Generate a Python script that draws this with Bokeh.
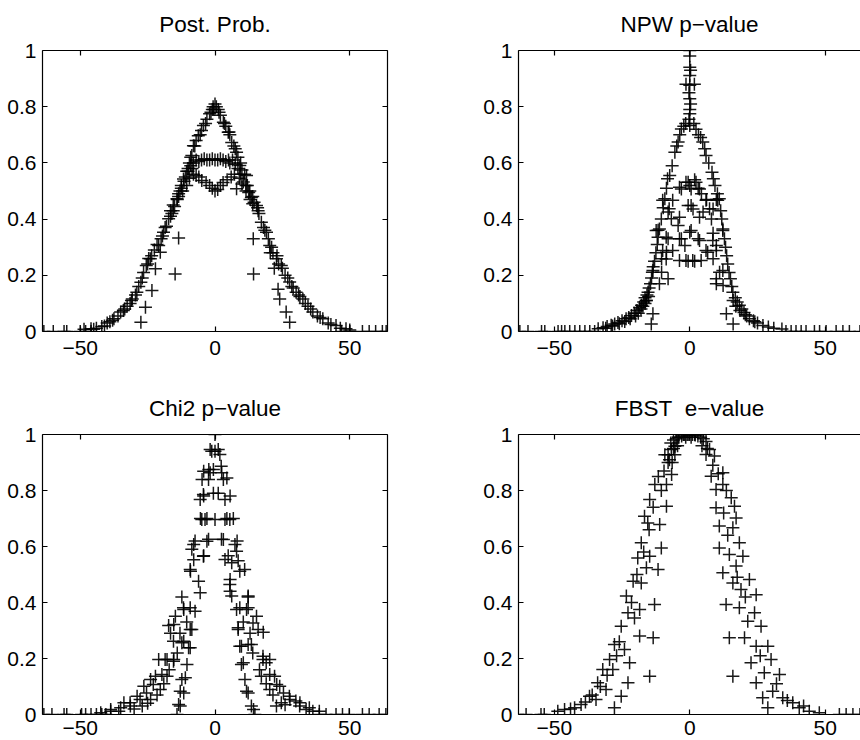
from bokeh.plotting import figure
from bokeh.models import LinearAxis, FixedTicker, Range1d, ColumnDataSource
from bokeh.layouts import column, row
from bokeh.embed import file_html
from bokeh.resources import INLINE

FONT = "Liberation Sans"

x_ticks = [-50, 0, 50]
x_tick_labels = ["\u221250", "0", "50"]
y_ticks = [0, 0.2, 0.4, 0.6, 0.8, 1]
y_tick_labels = ["0", "0.2", "0.4", "0.6", "0.8", "1"]

titles = ["Post. Prob.", "NPW p\u2212value", "Chi2 p\u2212value", "FBST\u00a0 e\u2212value"]

# ---------------- Post. Prob. ----------------
post_zero = [(-63.5, 0), (-60, 0), (-56, 0), (-55, 0), (-50, 0), (-48, 0), (-46, 0),
             (47, 0), (50, 0), (54.7, 0), (57.2, 0), (59.6, 0), (62.1, 0), (63.5, 0)]
post_outer_left = [(-48.6, 0.008), (-46, 0.01), (-44, 0.012), (-42, 0.018), (-40, 0.03), (-39, 0.035),
                   (-37.5, 0.045), (-36, 0.055), (-35, 0.069), (-34, 0.075), (-32.6, 0.09), (-31.5, 0.10),
                   (-30.7, 0.116), (-29.5, 0.13), (-28.3, 0.16), (-27.5, 0.175), (-26.5, 0.21), (-25.5, 0.235),
                   (-24.6, 0.26), (-24, 0.259), (-22.5, 0.29), (-20.9, 0.306), (-20, 0.33), (-19.1, 0.353),
                   (-18, 0.375), (-17.2, 0.401), (-16, 0.42), (-15, 0.445), (-14.1, 0.472), (-13, 0.50),
                   (-11.7, 0.543), (-10.5, 0.57), (-9.5, 0.60), (-8.6, 0.626), (-8, 0.661), (-7, 0.68),
                   (-6.2, 0.697), (-5, 0.715), (-4.3, 0.733), (-3, 0.755), (-2, 0.775), (-1, 0.79),
                   (-0.7, 0.80), (0, 0.81),
                   (-45, 0.008), (-41, 0.02), (-38, 0.04), (-33.5, 0.08), (-31, 0.11), (-29, 0.14),
                   (-27, 0.19), (-25, 0.24), (-23.5, 0.27), (-21.5, 0.31), (-19.5, 0.34), (-18.5, 0.37),
                   (-16.5, 0.41), (-15.5, 0.43), (-13.5, 0.48), (-12.5, 0.52), (-11, 0.55), (-10, 0.58),
                   (-9, 0.62), (-7.5, 0.66), (-5.5, 0.70), (-3.5, 0.74), (-1.5, 0.78), (-0.5, 0.79)]
post_outer_right = [(0.5, 0.80), (1.2, 0.79), (2, 0.77), (3.1, 0.745), (4, 0.73), (4.9, 0.709), (5.5, 0.70),
                    (6.2, 0.673), (7, 0.66), (8, 0.638), (8.5, 0.62), (9.2, 0.591), (10, 0.575), (11, 0.56),
                    (11.7, 0.555), (12.9, 0.50), (13.5, 0.477), (14.5, 0.46), (15.4, 0.448), (16.3, 0.42),
                    (17.2, 0.389), (18, 0.37), (19.1, 0.353), (19.8, 0.33), (20.3, 0.306), (21.5, 0.28),
                    (22.8, 0.259), (23.6, 0.24), (24.6, 0.235), (26, 0.20), (27.7, 0.176), (29, 0.155),
                    (30.1, 0.140), (31.5, 0.125), (32.6, 0.116), (34.5, 0.09), (36.3, 0.069), (38, 0.055),
                    (40, 0.045), (42, 0.03), (44.9, 0.021), (46.5, 0.012), (48.6, 0.01), (50, 0.005),
                    (1.5, 0.78), (3.5, 0.74), (5.2, 0.71), (7.5, 0.65), (9.5, 0.60), (12, 0.52), (14, 0.48),
                    (16, 0.43), (18.5, 0.36), (21, 0.30), (23, 0.27), (25, 0.225), (27, 0.19), (28.5, 0.16),
                    (31, 0.13), (33.5, 0.10), (35.5, 0.08), (39, 0.05), (43, 0.025)]
post_inner = [(-9, 0.59), (-8, 0.60), (-7, 0.61), (-6, 0.605), (-5, 0.61), (-4, 0.615), (-3, 0.61),
              (-2, 0.61), (-1, 0.615), (0, 0.61), (-8.5, 0.58), (-10, 0.57), (-11.5, 0.535), (-12.5, 0.51),
              (-13.5, 0.49),
              (0, 0.50), (-1, 0.51), (-2, 0.52), (-3.3, 0.53), (-4.9, 0.537), (-6, 0.55), (-7, 0.555),
              (-8, 0.56), (-9.5, 0.545), (-10.5, 0.52), (-12, 0.50), (-14, 0.47), (-15.5, 0.45), (-16.5, 0.43),
              (1, 0.61), (2, 0.615), (3, 0.61), (4, 0.605), (5, 0.61), (5.5, 0.60), (6.5, 0.61), (7.5, 0.595),
              (8.5, 0.58), (9.5, 0.56), (10.5, 0.532), (11.5, 0.52), (12.5, 0.495),
              (1, 0.505), (2, 0.52), (3, 0.53), (4.5, 0.54), (6, 0.55), (7.2, 0.56), (8, 0.508), (9, 0.545),
              (10, 0.525), (11.5, 0.50), (13, 0.47), (14, 0.455), (15.8, 0.44)]
post_outliers = [(-14.8, 0.205), (-13.5, 0.333), (-25.8, 0.086), (-27.5, 0.033), (-23.4, 0.146),
                 (-22.1, 0.223), (-20.3, 0.282),
                 (14.3, 0.205), (14.2, 0.33), (24, 0.116), (27.7, 0.033), (26.4, 0.069), (23.4, 0.15),
                 (22, 0.225), (20.5, 0.28)]

# ---------------- NPW p-value ----------------
npw_zero = [(-62.7, 0), (-59.7, 0), (-54.7, 0), (-53.5, 0), (-48.6, 0), (-47.3, 0), (-46.1, 0), (-44.3, 0),
            (-42.4, 0), (-40.6, 0), (-38.7, 0), (-36.9, 0), (-35.1, 0),
            (35.5, 0), (37.4, 0), (39.2, 0), (41.1, 0), (42.9, 0), (46, 0), (47.9, 0), (50.3, 0), (54, 0),
            (56.5, 0), (58.9, 0), (62.8, 0)]
npw_spike = [(0, 1.0), (0, 0.98), (0, 0.94), (0.3, 0.93), (0, 0.911), (-1.4, 0.88), (1.7, 0.88), (0, 0.876),
             (-0.3, 0.85), (0, 0.828), (0.3, 0.81), (0, 0.79), (0, 0.775), (-0.3, 0.755), (0, 0.733)]
npw_outer = [(-33.8, 0.01), (-32, 0.013), (-30.5, 0.018), (-29, 0.022), (-27.7, 0.027), (-26.5, 0.032),
             (-25, 0.038), (-23.5, 0.045), (-22.5, 0.05), (-21.5, 0.057), (-20.5, 0.065), (-19.5, 0.075),
             (-18.5, 0.085), (-17.8, 0.093), (-17, 0.105), (-16.5, 0.12), (-15.8, 0.13), (-15.4, 0.14),
             (-15, 0.155), (-14.5, 0.17), (-14.1, 0.19), (-13.8, 0.211), (-13.5, 0.23), (-13, 0.25),
             (-12.5, 0.28), (-12, 0.31), (-11.7, 0.335), (-11.2, 0.365), (-10.5, 0.40), (-9.8, 0.44),
             (-9.2, 0.472), (-8.6, 0.51), (-8.2, 0.544), (-7.4, 0.555), (-6.5, 0.59), (-5.5, 0.638),
             (-4.8, 0.66), (-4.3, 0.674), (-3.7, 0.70), (-3.1, 0.721), (-2.2, 0.73), (-1.5, 0.74),
             (-31, 0.012), (-28.5, 0.02), (-26, 0.028), (-24, 0.036), (-22, 0.045), (-20, 0.055),
             (-19, 0.065), (-18, 0.08), (-17.3, 0.09), (-16.5, 0.10), (-16, 0.11), (-15.2, 0.125),
             (1.5, 0.74), (2.3, 0.72), (3.2, 0.70), (4.0, 0.69), (4.8, 0.674), (5.5, 0.65), (6, 0.626),
             (7, 0.60), (8.2, 0.567), (8.7, 0.544), (9.3, 0.52), (10.2, 0.49), (10.9, 0.472), (11.4, 0.43),
             (11.8, 0.40), (12.2, 0.365), (12.8, 0.33), (13.2, 0.30), (13.6, 0.27), (14, 0.24), (14.5, 0.21),
             (15, 0.188), (15.5, 0.16), (15.9, 0.14), (16.8, 0.12), (17.5, 0.105), (18.3, 0.093),
             (19.2, 0.08), (20, 0.068), (21, 0.055), (22, 0.045), (23.5, 0.038), (25, 0.03), (27, 0.021),
             (29, 0.016), (31, 0.012), (34, 0.009), (17, 0.09), (18.5, 0.075), (20.5, 0.06), (24, 0.035)]
npw_inner = [(-1.4, 0.531), (2.3, 0.531), (-3.8, 0.513), (3.6, 0.507), (0.5, 0.507), (-10, 0.467),
             (-6.3, 0.467), (6, 0.467), (10.3, 0.467), (-7.6, 0.437), (7.3, 0.437), (-3.8, 0.407),
             (3.6, 0.407), (0.5, 0.448), (-12.4, 0.359), (12.2, 0.359), (-8.7, 0.335), (-3.8, 0.330),
             (0.5, 0.359), (3.6, 0.324), (8.5, 0.324), (-10, 0.288), (-6.3, 0.288), (6, 0.288), (9.8, 0.288),
             (-1.4, 0.253), (1.1, 0.253), (-3.8, 0.253), (4.2, 0.253), (-8.7, 0.258), (-13.6, 0.217),
             (12.2, 0.217), (-11.2, 0.170), (9.8, 0.170), (-13.6, 0.063), (13.5, 0.063), (-14.2, 0.027),
             (16, 0.027), (-16.1, 0.11), (16, 0.11),
             (-8, 0.425), (-6.8, 0.401), (-4.3, 0.377), (-3.1, 0.33), (-1.8, 0.306), (-0.6, 0.25),
             (-11.7, 0.36), (-8, 0.33), (-8.6, 0.282), (-10.4, 0.259), (-10.4, 0.211), (-8, 0.188),
             (-0.6, 0.531), (-3.1, 0.507), (-0.6, 0.448), (0, 0.353),
             (0, 0.52), (1.8, 0.54), (3.1, 0.51), (4.3, 0.49), (6.2, 0.47), (9.8, 0.47), (1.2, 0.436),
             (4.9, 0.425), (8.6, 0.436), (8, 0.40), (3.1, 0.33), (8.6, 0.35), (9.8, 0.306), (6.6, 0.282),
             (8.6, 0.259), (1.8, 0.25), (11, 0.211), (9.8, 0.188), (12.3, 0.164)]

# ---------------- Chi2 p-value ----------------
chi_zero = [(-63.5, 0), (-60.5, 0), (-56, 0), (-55, 0), (-49.5, 0), (-48, 0), (-46, 0), (-44, 0), (-42, 0),
            (-40.5, 0), (-14.1, 0), (14.8, 0),
            (38.7, 0), (41.2, 0), (44.9, 0), (47.3, 0), (49.8, 0), (54.7, 0), (57.2, 0), (60.9, 0), (63.4, 0)]
chi_left = [(0, 1.0), (0, 0.94), (-1.2, 0.94), (-1.8, 0.946), (-1.8, 0.863), (-2.4, 0.839), (-2.3, 0.875),
            (-4.2, 0.869), (-4.8, 0.839), (-4.3, 0.786), (-5.5, 0.768), (-4.2, 0.78), (-4.9, 0.696),
            (-3.7, 0.696), (-5.4, 0.70), (-3, 0.70), (-7.9, 0.607), (-7.4, 0.62), (-3, 0.619), (-2.4, 0.626),
            (-7.9, 0.553), (-4.3, 0.565), (-8.6, 0.59), (-4.2, 0.567), (-9.1, 0.512), (-9.2, 0.518),
            (-6.1, 0.476), (-5.5, 0.435), (-12.3, 0.42), (-11.6, 0.375), (-7.4, 0.369), (-11.7, 0.381),
            (-9.2, 0.381), (-14.7, 0.351), (-15.3, 0.321), (-17.2, 0.318), (-8.6, 0.304), (-9.2, 0.304),
            (-16.5, 0.29), (-11.6, 0.262), (-12.3, 0.256), (-15.4, 0.262), (-9.8, 0.238), (-9.2, 0.238),
            (-18.5, 0.196), (-15.3, 0.196), (-20.9, 0.196), (-17.8, 0.196), (-15.4, 0.19), (-10.4, 0.179),
            (-17.8, 0.137), (-19.7, 0.143), (-23.9, 0.125), (-22.1, 0.137), (-11, 0.131), (-12.3, 0.125),
            (-26.4, 0.101), (-20.3, 0.089), (-22.9, 0.107), (-11.6, 0.077), (-12.9, 0.083),
            (-28.9, 0.065), (-23.9, 0.054), (-25.4, 0.077), (-27.8, 0.054), (-33.8, 0.042), (-31.4, 0.03),
            (-31.5, 0.042), (-12.9, 0.030), (-13.5, 0.036), (-38.7, 0.018), (-35.7, 0.012), (-35, 0.024),
            (-38.7, 0.012), (-42.4, 0.006), (-30, 0.02), (-27, 0.03), (-25, 0.04), (-21.5, 0.07),
            (-19, 0.11), (-17, 0.16), (-14, 0.22), (-13, 0.29), (-10.5, 0.33)]
chi_right = [(1.2, 0.946), (1.8, 0.929), (-0.6, 0.875), (2.5, 0.863), (3.1, 0.839), (2.3, 0.887), (4.4, 0.845),
             (-0.6, 0.79), (1.2, 0.79), (3.7, 0.768), (5.6, 0.78), (0, 0.696), (3.7, 0.696), (5.5, 0.696),
             (4.4, 0.70), (6.8, 0.70), (2.4, 0.626), (3.1, 0.625), (7.4, 0.607), (8, 0.583), (8.2, 0.62),
             (3.7, 0.554), (6.2, 0.542), (9.2, 0.512), (4.9, 0.567), (8.6, 0.549), (11, 0.518),
             (5.5, 0.464), (5.6, 0.482), (6.2, 0.423), (5.6, 0.44), (12.3, 0.423), (12.3, 0.42),
             (8, 0.375), (11.7, 0.375), (9.2, 0.381), (12.3, 0.381), (15.4, 0.351), (14.1, 0.327),
             (16, 0.304), (8.6, 0.304), (8.6, 0.31), (17.9, 0.294), (9.8, 0.244), (13.5, 0.25), (12.3, 0.25),
             (9.2, 0.244), (17.8, 0.196), (19, 0.185), (17.8, 0.208), (20.3, 0.196), (10.5, 0.185),
             (9.8, 0.179), (17.2, 0.137), (20.3, 0.143), (11.1, 0.125), (22.1, 0.137), (24, 0.101),
             (22.9, 0.107), (12.3, 0.077), (11.7, 0.083), (20.3, 0.089), (25.4, 0.077), (27.6, 0.065),
             (30, 0.048), (27.8, 0.054), (13.5, 0.030), (14.3, 0.018), (24.6, 0.042), (22.8, 0.030),
             (31.4, 0.030), (33.8, 0.018), (31.5, 0.042), (35, 0.024), (36.3, 0.012), (38.7, 0.012),
             (19, 0.11), (16.5, 0.16), (14, 0.22), (13, 0.29), (10.5, 0.33), (21.5, 0.07), (26, 0.035)]

# ---------------- FBST e-value ----------------
fb_zero = [(-63.4, 0), (-60.4, 0), (-54.9, 0), (-53.7, 0), (55.2, 0), (57.7, 0), (60.2, 0), (62.8, 0)]
fb_top = [(-7, 0.97), (-6, 0.98), (-5, 0.985), (-4, 0.99), (-3, 0.995), (-2, 1.0), (-1, 1.0), (0, 1.0),
          (1, 1.0), (2, 0.998), (3, 0.995), (4, 0.99), (5, 0.985), (6, 0.975), (-4.5, 0.96), (4.5, 0.96),
          (-6, 0.95), (6.5, 0.95), (-2.4, 1.0), (-0.6, 1.0), (1.8, 1.0), (-4.3, 0.99), (-1.5, 0.99), (0.5, 0.99)]
fb_left = [(-5.5, 0.958), (-6.8, 0.946), (-8, 0.928), (-5.5, 0.928), (-9.2, 0.928), (-8, 0.9), (-6.5, 0.9),
           (-11.6, 0.85), (-6.7, 0.857), (-12.9, 0.821), (-8.6, 0.821), (-14.8, 0.768), (-8.6, 0.744),
           (-16.7, 0.708), (-11.1, 0.679), (-15.5, 0.684), (-17.9, 0.613), (-10.5, 0.595), (-14.8, 0.565),
           (-19.2, 0.559), (-16, 0.524), (-11.7, 0.518), (-20.9, 0.476), (-17.9, 0.470), (-23.4, 0.423),
           (-13, 0.393), (-22.8, 0.363), (-18.5, 0.375), (-20.4, 0.345), (-25.3, 0.315), (-18.5, 0.280),
           (-13.5, 0.274), (-27.8, 0.25), (-24.1, 0.232), (-29.6, 0.196), (-32.1, 0.161), (-28.4, 0.161),
           (-22.2, 0.185), (-14.8, 0.137), (-22.8, 0.113), (-34, 0.113), (-30.9, 0.089), (-25.3, 0.065),
           (-37, 0.065), (-34.6, 0.054), (-40.1, 0.036), (-42.5, 0.024), (-27.8, 0.024), (-46.2, 0.018),
           (-48.7, 0.012), (-44, 0.02), (-38.5, 0.045), (-36, 0.07), (-33, 0.1), (-30.5, 0.14), (-27, 0.21),
           (-26, 0.26), (-21.5, 0.40), (-19.5, 0.50), (-17, 0.58), (-15, 0.66), (-13.5, 0.74), (-10.5, 0.80),
           (-9.5, 0.87), (-7.5, 0.91)]
fb_right = [(7.3, 0.946), (6, 0.929), (9.1, 0.923), (12.2, 0.863), (7.9, 0.851), (12.2, 0.821), (9.7, 0.804),
            (15.3, 0.774), (9.7, 0.738), (16.5, 0.744), (17.1, 0.702), (10.9, 0.673), (15.9, 0.667),
            (18.3, 0.613), (10.9, 0.595), (14.6, 0.571), (19.6, 0.565), (12.2, 0.506), (17.1, 0.530),
            (22, 0.482), (15.9, 0.470), (18.9, 0.446), (24.5, 0.428), (13.4, 0.393), (18.3, 0.381),
            (23.9, 0.363), (21.4, 0.333), (26.3, 0.315), (14.6, 0.274), (20.2, 0.274), (24.5, 0.244),
            (28.8, 0.244), (22.6, 0.185), (30, 0.196), (27.5, 0.149), (33.1, 0.143), (15.9, 0.137),
            (24.5, 0.113), (30.6, 0.083), (34.3, 0.060), (26.9, 0.060), (38, 0.042), (40.4, 0.024),
            (28.8, 0.024), (44.1, 0.012), (47.8, 0.006), (42, 0.03), (36, 0.05), (32, 0.11), (26, 0.21),
            (20.5, 0.42), (17.5, 0.49), (14, 0.64), (12.5, 0.72), (8.5, 0.89), (10.5, 0.86), (13.5, 0.80)]

panels = [
    (titles[0], post_zero + post_outer_left + post_outer_right + post_inner + post_outliers),
    (titles[1], npw_zero + npw_spike + npw_outer + npw_inner),
    (titles[2], chi_zero + chi_left + chi_right),
    (titles[3], fb_zero + fb_top + fb_left + fb_right),
]


def style_axis(ax, ticks, labels, show_labels=True, standoff=6):
    ax.ticker = FixedTicker(ticks=ticks)
    ax.major_tick_in = 5
    ax.major_tick_out = 0
    ax.minor_tick_in = 0
    ax.minor_tick_out = 0
    ax.axis_line_color = "black"
    ax.axis_line_width = 1.2
    ax.major_tick_line_color = "black"
    ax.major_tick_line_width = 1.2
    ax.major_label_text_font = FONT
    if show_labels:
        ax.major_label_overrides = {t: l for t, l in zip(ticks, labels)}
        ax.major_label_text_color = "black"
        ax.major_label_text_font_size = "21px"
        ax.major_label_standoff = standoff
    else:
        ax.major_label_text_color = None
        ax.major_label_text_font_size = "1px"
        ax.major_label_standoff = 0


def make(idx):
    title, pts = panels[idx]
    left_col = idx % 2 == 0
    top_row = idx < 2
    fw = 345 if left_col else 342
    fh = 281 if top_row else 280
    xr = Range1d(-64, 64) if left_col else Range1d(-63.2, 63.0)
    p = figure(frame_width=fw, frame_height=fh, output_backend="svg", toolbar_location=None,
               x_range=xr, y_range=Range1d(0, 1),
               min_border_left=42 if left_col else 34, min_border_right=93 if left_col else 3,
               min_border_top=50 if top_row else 52, min_border_bottom=51 if top_row else 26,
               title=None)
    p.outline_line_color = None
    p.xgrid.visible = False
    p.ygrid.visible = False
    p.background_fill_color = "white"
    p.border_fill_color = "white"
    style_axis(p.xaxis[0], x_ticks, x_tick_labels, standoff=9 if top_row else 6)
    style_axis(p.yaxis[0], y_ticks, y_tick_labels)
    # top axis: inward ticks and the panel title as its label
    top = LinearAxis()
    style_axis(top, x_ticks, x_tick_labels, show_labels=False)
    top.axis_label = title
    top.axis_label_text_font = FONT
    top.axis_label_text_font_size = "22.5px"
    top.axis_label_text_font_style = "normal"
    top.axis_label_text_color = "black"
    top.axis_label_standoff = 14
    p.add_layout(top, "above")
    if left_col:
        rt = LinearAxis()
        style_axis(rt, y_ticks, y_tick_labels, show_labels=False)
        p.add_layout(rt, "right")
    src = ColumnDataSource(data=dict(x=[a for a, b in pts], y=[b for a, b in pts]))
    p.scatter("x", "y", source=src, marker="cross", size=13, line_color="black",
              line_width=1.5, line_alpha=0.9)
    return p


figs = [make(i) for i in range(4)]
layout = column(row(figs[0], figs[1]), row(figs[2], figs[3]))
open("out.html", "w").write(file_html(layout, INLINE))
